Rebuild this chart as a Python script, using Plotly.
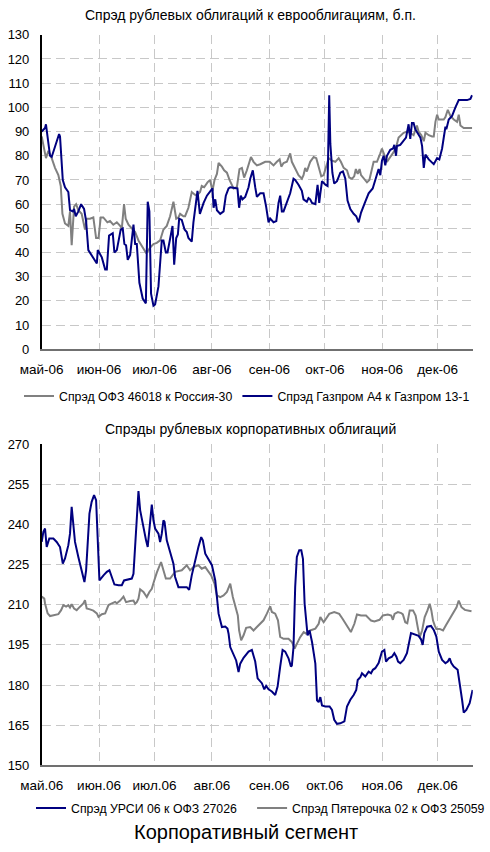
import pandas as pd
import plotly.graph_objects as go

BASE = pd.Timestamp("2006-05-01")

# ---- top chart: spreads of ruble bonds vs eurobonds, bp (x = days since 1 May 2006) ----
ofz_days = [0, 0.9, 2.3, 3.6, 5.4, 7.2, 9.0, 10.3, 11.2, 12.6, 14.4, 15.3, 16.2, 17.5, 18.6, 19.8, 21.6, 23.4, 24.3, 26.1,
            27.9, 29.4, 30.7, 31.9, 33.3, 35.5, 36.9, 38.7, 40.6, 42.4, 43.3, 44.5, 45.4, 46.9, 48.7, 50.5, 52.3, 54.1, 56.3, 57.3,
            58.6, 60.4, 62.2, 64.0, 65.8, 67.6, 69.4, 71.2, 72.7, 73.9, 74.8, 76.6, 77.5, 79.3, 81.1, 82.6, 83.8, 85.6, 86.5, 87.8,
            89.6, 91.0, 92.3, 93.4, 94.7, 95.6, 97.4, 98.6, 100.1, 101.5, 103.7, 105.5, 106.9, 108.2, 109.4, 110.9, 113.1, 114.5, 116.3, 118.1,
            120.8, 123.2, 125.3, 127.1, 128.6, 129.5, 130.7, 132.5, 134.3, 135.2, 137.0, 138.8, 140.6, 141.5, 142.4, 143.3, 145.1, 147.0, 148.4, 149.7,
            151.1, 152.4, 153.8, 155.1, 156.9, 158.7, 160.5, 161.7, 163.2, 165.0, 166.2, 167.7, 168.9, 169.8, 170.8, 171.8, 172.6, 174.0, 175.8, 177.1,
            178.5, 179.4, 181.2, 182.1, 183.0, 183.9, 184.8, 186.6, 188.4, 190.2, 191.7, 192.9, 195.6, 197.4, 199.2, 201.0, 202.8, 203.7, 205.2, 206.5,
            207.4, 209.2, 211.0, 211.9, 212.8, 213.7, 214.6, 217.3, 218.2, 219.5, 220.9, 222.7, 224.5, 225.4, 226.3, 228.1, 232.6]
ofz_vals = [88, 84.5, 79, 82, 79, 75, 72, 67.5, 56, 52, 51, 57, 43, 59, 60, 57.5, 56, 49.5, 54, 54,
            54.5, 46, 46, 54.5, 54.5, 52.5, 53, 51.5, 52.5, 51, 50, 60, 54, 51.5, 50, 48.5, 45, 42.5, 40, 40.5,
            42, 43.5, 44, 45, 49.5, 51, 55, 61, 54, 54.5, 56, 55, 55, 58.5, 65, 64, 63.5, 65, 67.5, 67,
            69, 70, 65.5, 70, 72.5, 77, 75.5, 74, 73, 70, 66.5, 67, 74.5, 75, 71, 74, 79.5, 77.5, 76, 76.5,
            77.5, 77.5, 76, 77.5, 78.5, 75.5, 77, 77.5, 81, 77.5, 75, 72, 70.5, 72, 75, 73.5, 77.5, 79.5, 79, 75,
            71.5, 72, 76, 79, 78, 77.5, 79, 77.5, 75, 74, 71, 70.5, 71.5, 74.5, 72.5, 74.5, 72, 70.5, 69, 70,
            75, 77.5, 77.5, 79, 81, 83, 81, 77.5, 79.5, 81.5, 84, 87.5, 89.5, 90, 89.5, 88.5, 92.5, 90, 88.5, 86,
            89.5, 88.5, 88, 88, 94, 97, 95, 95, 96, 99, 96.5, 95, 94, 97, 92.5, 91.5, 91.5]

gaz_days = [0, 1.8, 2.3, 3.2, 4.5, 5.4, 9.4, 9.9, 11.4, 12.6, 14.4, 15.3, 16.8, 17.5, 18.4, 19.8, 21.3, 22.9, 24.0, 25.2,
            27.0, 28.8, 29.8, 30.3, 31.0, 32.5, 34.3, 35.2, 36.4, 37.9, 38.4, 39.3, 40.6, 42.7, 43.8, 44.7, 45.6, 46.5, 47.8, 49.6,
            50.5, 51.4, 52.8, 54.6, 56.3, 57.3, 58.2, 59.1, 60.4, 61.3, 63.1, 64.9, 65.8, 67.1, 68.0, 70.7, 71.6, 72.7, 73.6, 74.3,
            75.7, 77.2, 78.4, 79.3, 81.1, 82.0, 83.3, 84.2, 85.5, 87.5, 89.3, 91.4, 92.3, 92.9, 93.8, 94.7, 96.5, 98.3, 99.5, 101.0,
            101.9, 105.8, 106.7, 107.6, 108.5, 110.0, 111.8, 112.7, 114.1, 115.4, 116.3, 118.1, 119.9, 121.3, 122.6, 123.5, 125.3, 126.8, 128.0, 128.9,
            129.8, 130.7, 132.5, 134.3, 136.1, 137.0, 138.8, 140.6, 141.5, 143.3, 144.2, 145.1, 146.1, 147.9, 149.1, 150.0, 150.6, 151.5, 153.3, 154.5,
            155.4, 156.0, 157.1, 158.1, 159.6, 161.4, 162.8, 164.1, 165.3, 166.8, 168.6, 170.0, 171.3, 172.6, 174.9, 176.7, 178.9, 180.3, 182.1, 183.0,
            183.9, 184.8, 185.7, 186.6, 188.4, 189.9, 190.6, 191.5, 192.0, 193.8, 195.6, 196.9, 198.3, 199.2, 200.1, 201.0, 201.9, 202.8, 204.7, 205.6,
            206.5, 207.4, 209.2, 211.9, 213.7, 214.9, 216.4, 218.2, 218.7, 220.0, 221.8, 223.6, 225.4, 227.2, 229.9, 231.7, 232.6]
gaz_vals = [90, 91.5, 93, 88, 80, 79.5, 89, 88, 70, 67, 65, 57.5, 57, 58, 55, 57, 60, 58, 53, 41,
            39, 37, 35.5, 41, 40, 38, 33, 33, 47, 48, 48, 40, 41, 49.5, 50, 43.5, 43, 37, 39, 51.5,
            43.5, 43.5, 27.5, 21, 19, 61, 57, 23, 18, 18.5, 26, 45, 45, 40, 40, 51, 35, 46, 47.5, 54,
            53.5, 49.5, 48.5, 46, 44.5, 52.5, 60.5, 65.5, 56, 60.5, 63.5, 65.5, 66.5, 58.5, 62, 57.5, 56, 57, 63.5, 66.5,
            67, 66.5, 58.5, 63.5, 62, 63, 67, 70.5, 74, 67, 63, 64.5, 64.5, 59, 52.5, 54, 52.5, 53, 60.5, 63.5,
            57, 57, 61, 64.5, 70.5, 70, 68, 65.5, 62, 61, 62.5, 62, 60.5, 60, 68, 60.5, 64.5, 69.5, 68, 67.5,
            105, 85, 73, 68.5, 69.5, 73, 73.5, 70.5, 61.5, 58, 56, 55, 52.5, 56.5, 61, 64.5, 66.5, 70.5, 74.5, 72,
            78, 80, 76, 80, 82.5, 83, 84.5, 80, 84, 84.5, 86, 87.5, 93, 87, 93.5, 93.5, 91, 90, 87.5, 84,
            75, 80.5, 78.5, 76.5, 79, 78.5, 83, 92, 91, 95, 96.5, 100, 103, 103, 103, 103.5, 105]

# ---- bottom chart: corporate bond spreads ----
ursi_days = [0, 0.9, 1.8, 2.7, 4.1, 6.3, 8.1, 9.9, 11.4, 12.6, 14.4, 15.3, 16.2, 17.1, 18.0, 19.8, 21.6, 23.1, 24.0, 24.7,
             25.8, 27.0, 28.3, 29.4, 30.1, 31.2, 33.4, 35.2, 36.6, 37.5, 39.3, 41.5, 43.3, 44.5, 46.9, 48.7, 49.6, 50.5, 51.4, 52.3,
             53.2, 55.0, 56.4, 57.3, 58.6, 59.5, 60.4, 61.3, 63.1, 64.0, 64.9, 65.8, 66.4, 67.6, 69.4, 71.2, 72.1, 73.9, 78.4, 79.7,
             81.1, 82.9, 84.7, 86.2, 87.1, 88.4, 90.2, 92.0, 93.8, 94.7, 95.6, 97.4, 99.2, 100.4, 101.0, 101.9, 103.7, 105.1, 106.4, 107.3,
             109.1, 111.8, 113.6, 115.4, 116.7, 119.0, 120.3, 121.3, 122.6, 124.4, 126.2, 127.5, 128.9, 130.2, 131.6, 133.4, 134.7, 135.2, 136.1, 137.0,
             137.9, 139.2, 140.3, 141.2, 142.1, 143.0, 143.7, 144.8, 146.1, 147.9, 148.8, 149.7, 150.6, 151.5, 153.3, 155.6, 156.9, 158.1, 159.6, 161.4,
             163.6, 165.0, 166.8, 168.6, 170.0, 170.8, 172.2, 173.1, 174.9, 176.7, 178.0, 179.0, 180.3, 182.1, 183.9, 185.2, 186.1, 187.5, 189.3, 190.6,
             191.7, 192.6, 193.8, 195.6, 197.4, 199.6, 201.0, 203.7, 205.0, 205.9, 206.8, 208.3, 210.4, 211.9, 213.3, 214.6, 216.4, 218.2, 219.5, 220.5,
             221.4, 222.7, 224.8, 226.3, 227.2, 228.1, 229.5, 231.3, 232.9]
ursi_vals = [233.5, 237.3, 238.5, 231.6, 234.8, 234.8, 233.5, 231.6, 225.4, 227.3, 232.3, 236.6, 246.6, 240.4, 233.5, 227.9, 222.9, 218.5, 222.9, 232.9,
             244.1, 248.5, 251.0, 249.1, 235.4, 219.1, 221.0, 222.3, 222.9, 221.0, 217.6, 217.3, 217.3, 219.1, 219.4, 219.8, 221.6, 232.9, 245.4, 252.5,
             245.4, 238.5, 234.1, 231.6, 240.4, 247.5, 241.6, 238.5, 236.6, 233.5, 236.6, 241.6, 241.0, 234.1, 229.7, 225.4, 220.4, 216.6, 216.6, 215.6,
             221.0, 226.6, 231.6, 235.3, 234.1, 229.1, 227.2, 224.8, 219.1, 211.7, 206.7, 201.7, 201.9, 201.1, 199.2, 194.2, 191.1, 189.2, 184.9, 188.0,
             190.2, 192.5, 193.1, 188.8, 182.5, 180.7, 178.4, 179.7, 178.4, 177.6, 176.3, 179.4, 186.9, 193.1, 192.5, 190.0, 186.9, 187.3, 194.2, 216.6,
             227.9, 230.4, 230.4, 227.2, 210.4, 201.7, 198.6, 200.4, 196.1, 188.0, 174.3, 173.6, 175.5, 172.4, 172.0, 172.0, 170.7, 167.0, 165.5, 165.7,
             166.4, 172.0, 174.5, 176.3, 178.2, 181.9, 182.9, 184.4, 183.2, 185.0, 184.4, 185.7, 186.3, 188.2, 192.5, 193.1, 188.8, 190.0, 190.6, 191.9,
             190.6, 188.8, 188.2, 189.4, 191.9, 199.4, 199.0, 198.4, 197.1, 195.0, 199.4, 201.8, 202.1, 200.6, 198.1, 192.5, 189.4, 188.2, 188.8, 190.0,
             188.2, 186.9, 185.7, 179.4, 174.5, 169.7, 170.7, 173.2, 178.2]

pyat_days = [0, 1.4, 1.8, 3.2, 4.5, 6.3, 9.0, 10.5, 11.7, 13.2, 14.4, 15.3, 16.2, 17.5, 18.9, 20.7, 22.5, 23.4, 24.3, 26.1,
             27.9, 29.8, 30.7, 32.5, 34.3, 36.1, 37.9, 39.7, 40.6, 42.4, 44.2, 45.6, 47.8, 49.6, 50.5, 51.4, 52.3, 53.2, 55.0, 56.8,
             58.2, 59.5, 60.8, 62.2, 64.5, 65.5, 67.1, 69.4, 71.2, 72.1, 75.7, 78.4, 80.2, 82.0, 84.7, 86.5, 88.4, 89.8, 91.6, 93.4,
             94.7, 96.5, 98.3, 100.1, 101.9, 103.3, 104.6, 106.0, 106.7, 107.8, 109.1, 110.5, 112.7, 114.5, 116.3, 118.1, 119.9, 121.7, 123.5, 124.4,
             126.2, 127.7, 128.9, 130.7, 133.4, 135.2, 136.7, 137.9, 139.7, 141.6, 143.0, 145.1, 147.9, 149.7, 150.6, 152.4, 155.4, 158.1, 160.8, 162.6,
             165.3, 167.1, 169.0, 170.4, 172.6, 175.3, 178.0, 179.8, 182.6, 184.4, 187.1, 188.9, 189.8, 190.7, 192.5, 194.3, 195.2, 196.5, 197.6, 198.9,
             200.7, 202.1, 203.4, 204.3, 205.6, 207.0, 208.5, 209.7, 210.6, 211.5, 212.4, 213.3, 215.1, 216.9, 218.4, 220.5, 222.4, 224.2, 225.4, 226.9,
             228.7, 232.3]
pyat_vals = [213.1, 212.3, 210.5, 206.8, 205.8, 206.1, 206.5, 208.0, 209.9, 209.3, 209.9, 209.0, 210.2, 208.6, 208.0, 209.3, 210.5, 211.7, 208.6, 208.3,
             207.8, 206.8, 205.5, 206.5, 206.8, 209.9, 210.5, 211.1, 210.6, 211.6, 213.1, 211.0, 211.4, 211.6, 210.4, 211.0, 212.3, 215.8, 214.8, 212.9,
             214.8, 216.0, 219.0, 222.0, 226.0, 223.5, 219.8, 219.8, 221.6, 222.3, 222.9, 224.8, 222.9, 224.1, 224.8, 223.5, 224.1, 222.9, 221.0, 217.9,
             213.5, 212.9, 213.5, 214.8, 217.9, 212.9, 209.2, 206.0, 200.4, 196.7, 198.6, 201.4, 201.7, 200.4, 201.7, 202.9, 204.2, 206.7, 209.4, 207.3,
             206.7, 204.2, 198.0, 197.3, 197.3, 196.1, 193.6, 195.4, 197.9, 199.8, 199.2, 200.4, 201.1, 202.9, 205.4, 203.5, 206.6, 207.3, 206.6, 204.8,
             201.6, 199.8, 202.9, 206.4, 206.0, 206.0, 204.1, 203.8, 204.4, 206.0, 206.4, 206.0, 204.4, 206.6, 207.3, 206.9, 206.4, 203.5, 203.1, 207.9,
             207.9, 206.0, 201.0, 197.9, 200.4, 205.4, 207.9, 210.4, 207.9, 204.1, 202.3, 201.0, 201.0, 200.4, 202.3, 204.8, 206.6, 209.1, 211.6, 209.1,
             208.1, 207.6]

month_starts = ["2006-05-01", "2006-06-01", "2006-07-01", "2006-08-01",
                "2006-09-01", "2006-10-01", "2006-11-01", "2006-12-01"]
top_ticktext = ["май-06", "июн-06", "июл-06", "авг-06", "сен-06", "окт-06", "ноя-06", "дек-06"]
bot_ticktext = ["май.06", "июн.06", "июл.06", "авг.06", "сен.06", "окт.06", "ноя.06", "дек.06"]
x_end = "2006-12-20"


def to_dates(days):
    return BASE + pd.to_timedelta(days, unit="D")


FONT = "Liberation Sans, Arial, sans-serif"
NAVY = "#000080"
GREY = "#808080"
GRID = "#c8c8c8"
PAD = "\u00a0\u00a0\u00a0"  # extra spacing after the first bottom legend entry

fig = go.Figure()
fig.add_trace(go.Scatter(x=to_dates(ofz_days), y=ofz_vals, mode="lines", name="Спрэд ОФЗ 46018 к Россия-30",
                         line=dict(color=GREY, width=2), xaxis="x", yaxis="y", legend="legend"))
fig.add_trace(go.Scatter(x=to_dates(gaz_days), y=gaz_vals, mode="lines", name="Спрэд Газпром А4 к Газпром 13-1",
                         line=dict(color=NAVY, width=2), xaxis="x", yaxis="y", legend="legend"))
fig.add_trace(go.Scatter(x=to_dates(pyat_days), y=pyat_vals, mode="lines", name="Спрэд Пятерочка 02 к ОФЗ 25059",
                         line=dict(color=GREY, width=2), xaxis="x2", yaxis="y2", legend="legend2", legendrank=2))
fig.add_trace(go.Scatter(x=to_dates(ursi_days), y=ursi_vals, mode="lines", name="Спрэд УРСИ 06 к ОФЗ 27026" + PAD,
                         line=dict(color=NAVY, width=2), xaxis="x2", yaxis="y2", legend="legend2", legendrank=1))

W, H = 490, 852
xdom = [41.7 / W, 472.8 / W]
ydom_top = [1 - 349.3 / H, 1 - 34.8 / H]
ydom_bot = [1 - 765.3 / H, 1 - 444.3 / H]

xcommon = dict(type="date", range=["2006-05-01", x_end], tickmode="array", tickvals=month_starts,
               showgrid=True, gridcolor=GRID, griddash="9px,5px", gridwidth=1,
               showline=True, linecolor="#707070", linewidth=2, ticks="", zeroline=False,
               tickfont=dict(family=FONT, size=13.5, color="#000"), ticklabelstandoff=6,
               domain=xdom, automargin=False, fixedrange=True)
ycommon = dict(showgrid=True, gridcolor=GRID, griddash="9px,5px", gridwidth=1,
               showline=True, linecolor="#000", linewidth=1.5, ticks="", zeroline=False,
               tickfont=dict(family=FONT, size=13, color="#000"), ticklabelstandoff=8,
               automargin=False, fixedrange=True)

fig.update_layout(
    width=W, height=H, margin=dict(l=0, r=0, t=0, b=0),
    paper_bgcolor="white", plot_bgcolor="white",
    xaxis=dict(xcommon, ticktext=top_ticktext, anchor="y"),
    yaxis=dict(ycommon, range=[0, 130], dtick=10, tick0=0, domain=ydom_top, anchor="x"),
    xaxis2=dict(xcommon, ticktext=bot_ticktext, anchor="y2"),
    yaxis2=dict(ycommon, range=[150, 270], dtick=15, tick0=150, domain=ydom_bot, anchor="x2"),
    legend=dict(orientation="h", x=19 / W, xanchor="left", y=1 - 396 / H, yanchor="middle",
                font=dict(family=FONT, size=12.3, color="#000"), bgcolor="rgba(0,0,0,0)",
                itemwidth=30),
    legend2=dict(orientation="h", x=31 / W, xanchor="left", y=1 - 808 / H, yanchor="middle",
                 font=dict(family=FONT, size=12.3, color="#000"), bgcolor="rgba(0,0,0,0)",
                 itemwidth=30, traceorder="normal"),
    annotations=[
        dict(text="Спрэд рублевых облигаций к еврооблигациям, б.п.", x=250 / W, y=1 - 15 / H,
             xref="paper", yref="paper", showarrow=False, xanchor="center", yanchor="middle",
             font=dict(family=FONT, size=14, color="#000")),
        dict(text="Спрэды рублевых корпоративных облигаций", x=250 / W, y=1 - 429 / H,
             xref="paper", yref="paper", showarrow=False, xanchor="center", yanchor="middle",
             font=dict(family=FONT, size=14, color="#000")),
        dict(text="Корпоративный сегмент", x=245.5 / W, y=1 - 832 / H,
             xref="paper", yref="paper", showarrow=False, xanchor="center", yanchor="middle",
             font=dict(family=FONT, size=20, color="#000")),
    ],
)

fig.write_html("out.html", config={"displayModeBar": False},
               post_script="document.body.style.margin='0';document.body.style.overflow='hidden';")
